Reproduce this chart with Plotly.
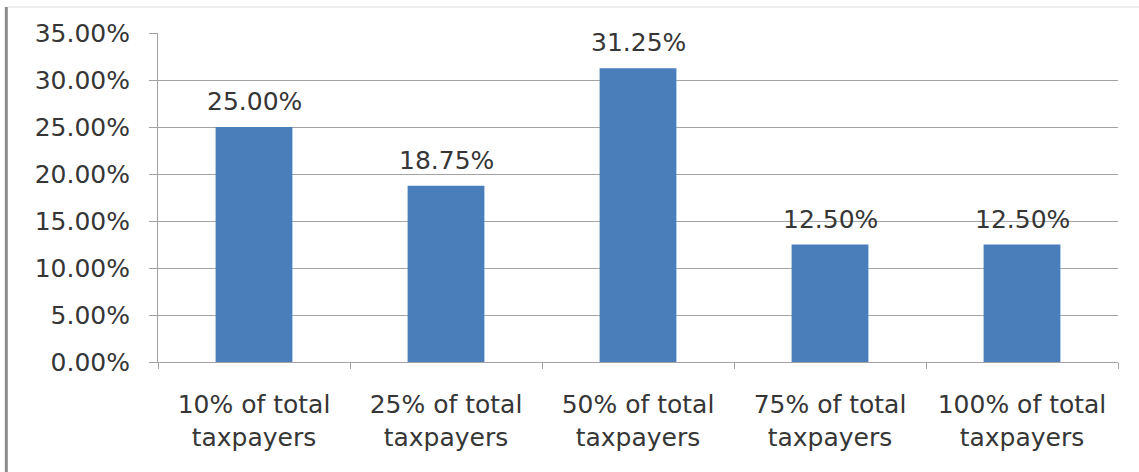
import plotly.graph_objects as go

categories = [
    "10% of total<br>taxpayers",
    "25% of total<br>taxpayers",
    "50% of total<br>taxpayers",
    "75% of total<br>taxpayers",
    "100% of total<br>taxpayers",
]
shares = [0.25, 0.1875, 0.3125, 0.125, 0.125]

FONT = "DejaVu Sans"
SIZE = 25
TEXT = "#363636"
GRID = "#a3a3a3"
BAR = "#4a7ebb"

fig = go.Figure(
    go.Bar(
        x=categories,
        y=shares,
        width=0.4,
        marker=dict(color=BAR, line=dict(width=0)),
        cliponaxis=False,
    )
)

# value labels sitting above each bar
for cat, val in zip(categories, shares):
    fig.add_annotation(
        x=cat, y=val, text=f"{val:.2%}",
        showarrow=False, yanchor="bottom", yshift=9,
        font=dict(family=FONT, size=SIZE, color=TEXT),
    )

fig.update_layout(
    width=1139,
    height=472,
    margin=dict(l=158, r=21, t=33, b=110),
    paper_bgcolor="white",
    plot_bgcolor="white",
    showlegend=False,
    font=dict(family=FONT, size=SIZE, color=TEXT),
    xaxis=dict(
        showgrid=False,
        showline=True,
        linecolor=GRID,
        linewidth=1,
        ticks="outside",
        tickson="boundaries",
        ticklen=6,
        tickcolor=GRID,
        tickfont=dict(family=FONT, size=SIZE, color=TEXT),
        ticklabelstandoff=20,
    ),
    yaxis=dict(
        range=[0, 0.35],
        dtick=0.05,
        tickformat=".2%",
        showgrid=True,
        gridcolor=GRID,
        gridwidth=1,
        showline=True,
        linecolor=GRID,
        linewidth=1,
        ticks="outside",
        ticklen=8,
        tickcolor=GRID,
        tickfont=dict(family=FONT, size=SIZE, color=TEXT),
        ticklabelstandoff=14,
        zeroline=False,
    ),
    shapes=[
        # chart frame: top edge and left edge
        dict(type="line", xref="paper", yref="paper",
             x0=-0.156, x1=1.03, y0=1.079, y1=1.079,
             line=dict(color="#dcdcdc", width=1)),
        dict(type="line", xref="paper", yref="paper",
             x0=-0.158, x1=-0.158, y0=1.079, y1=-0.34,
             line=dict(color="#8c8c8c", width=3)),
    ],
)

fig.write_html("out.html")
